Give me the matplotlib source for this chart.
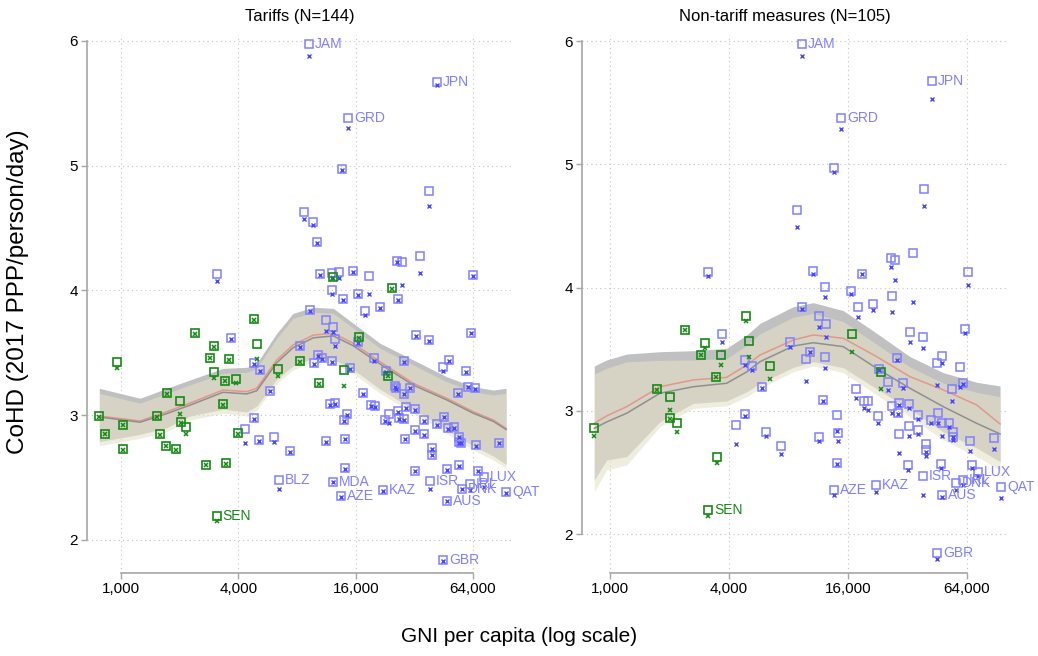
import matplotlib
matplotlib.use("Agg")
import matplotlib.pyplot as plt
from matplotlib.ticker import FixedLocator, FixedFormatter, NullLocator

plt.rcParams["font.family"] = ["Liberation Sans", "DejaVu Sans"]

BLUE_SQ = "#8080ff"
BLUE_X = "#4848ff"
GREEN = "#138a13"

# ---------------- Tariffs panel (N=144) ----------------
# blue countries: GNI per capita, CoHD (square), CoHD (x marker)
tar_blue_gni = [13570, 38180, 8720, 9700, 10135, 3108, 10500, 12050, 13060, 15410, 18790, 26140,
                27550, 34020, 64140, 12140, 13740, 16510, 26410, 9275, 17870, 21420, 11310, 12280,
                12530, 16440, 32560, 38180, 62120, 8290, 10210, 10770, 9757, 12140, 19890, 28150,
                47900, 44730, 59050, 14960, 22900, 25460, 25760, 30400, 28150, 17490, 60510, 65350,
                53280, 11870, 12500, 19060, 19990, 14390, 13900, 23850, 22630, 26380, 26690, 29070,
                32420, 28330, 35850, 45570, 41830, 47740, 50980, 32420, 35850, 54240, 54400, 55330,
                11310, 14180, 28760, 66060, 87190, 39210, 39210, 14070, 32250, 47040, 54050, 67470,
                3668, 4797, 5185, 5816, 4813, 4325, 5095, 6097, 7336]
tar_blue_sq = [4.971, 4.800, 4.631, 4.546, 4.386, 4.129, 4.132, 4.136, 4.144, 4.152, 4.112, 4.236,
               4.228, 4.276, 4.124, 4.007, 3.933, 3.973, 3.929, 3.844, 3.837, 3.863, 3.763, 3.704,
               3.614, 3.585, 3.642, 3.602, 3.662, 3.553, 3.480, 3.458, 3.415, 3.432, 3.462, 3.430,
               3.442, 3.388, 3.354, 3.375, 3.350, 3.233, 3.215, 3.221, 3.173, 3.177, 3.228, 3.217,
               3.177, 3.087, 3.095, 3.081, 3.075, 3.007, 2.961, 3.007, 2.957, 3.035, 2.977, 3.067,
               3.051, 2.966, 2.961, 2.987, 2.929, 2.893, 2.905, 2.877, 2.846, 2.827, 2.784, 2.779,
               2.790, 2.811, 2.811, 2.758, 2.780, 2.734, 2.684, 2.573, 2.554, 2.565, 2.600, 2.554,
               3.618, 3.414, 3.362, 3.196, 2.974, 2.885, 2.799, 2.828, 2.711]
tar_blue_x = [4.965, 4.677, 4.573, 4.524, 4.380, 4.078, 4.126, 4.100, 4.097, 4.146, 3.974, 4.230,
              4.043, 4.140, 4.118, 3.969, 3.927, 3.967, 3.923, 3.838, 3.803, 3.857, 3.674, 3.669,
              3.554, 3.579, 3.636, 3.596, 3.656, 3.547, 3.474, 3.452, 3.409, 3.426, 3.436, 3.424,
              3.436, 3.356, 3.348, 3.369, 3.344, 3.227, 3.209, 3.215, 3.167, 3.171, 3.222, 3.211,
              3.171, 3.081, 3.089, 3.075, 3.069, 3.001, 2.955, 2.934, 2.951, 3.029, 2.971, 3.061,
              3.045, 2.960, 2.955, 2.981, 2.923, 2.887, 2.899, 2.871, 2.840, 2.821, 2.778, 2.773,
              2.784, 2.805, 2.805, 2.752, 2.774, 2.728, 2.678, 2.567, 2.548, 2.559, 2.594, 2.548,
              3.612, 3.408, 3.356, 3.190, 2.968, 2.779, 2.793, 2.787, 2.705]

tar_lab_code = ["JAM", "JPN", "GRD", "BLZ", "MDA", "AZE", "KAZ", "ISR", "IRL", "DNK", "LUX", "QAT", "AUS", "GBR"]
tar_lab_gni = [9250, 41960, 14660, 6490, 12240, 13450, 22100, 38350, 61530, 56000, 72640, 94810, 47040, 45040]
tar_lab_sq = [5.976, 5.674, 5.380, 2.480, 2.466, 2.351, 2.399, 2.472, 2.445, 2.410, 2.501, 2.381, 2.314, 1.838]
tar_lab_x = [5.880, 5.647, 5.302, 2.405, 2.460, 2.345, 2.393, 2.407, 2.399, 2.404, 2.424, 2.375, 2.308, 1.832]

tar_green_gni = [774, 828, 957, 1027, 1027, 1530, 1585, 1700, 1910, 1730, 2000, 2025, 2163, 2397,
                 3000, 2862, 2990, 3418, 3878, 3594, 3324, 2730, 3470, 4832, 5004, 3983, 6391,
                 8288, 10336, 13985, 16636, 23440, 24660, 12280]
tar_green_sq = [2.993, 2.851, 3.426, 2.923, 2.726, 2.990, 2.846, 2.755, 2.728, 3.175, 3.113, 2.945,
                2.907, 3.658, 3.552, 3.460, 3.346, 3.276, 3.292, 3.450, 3.087, 2.602, 2.618, 3.768,
                3.568, 2.854, 3.367, 3.432, 3.258, 3.362, 3.624, 3.316, 4.017, 4.105]
tar_green_x = [2.987, 2.845, 3.375, 2.917, 2.720, 2.984, 2.840, 2.749, 2.722, 3.169, 3.007, 2.939,
               2.849, 3.652, 3.546, 3.454, 3.300, 3.270, 3.255, 3.444, 3.081, 2.596, 2.612, 3.762,
               3.452, 2.848, 3.314, 3.426, 3.252, 3.236, 3.618, 3.310, 4.011, 4.099]
tar_green_lab = ["SEN"]
tar_green_lab_gni = [3097]
tar_green_lab_sq = [2.193]
tar_green_lab_x = [2.153]

# smoothed fits and confidence bands (tariffs)
tar_band_gni = [774, 1252, 1716, 2260, 3336, 4417, 4970, 6295, 7630, 9700, 12280, 15550,
                21330, 31600, 46880, 64200, 81340, 94500]
tar_gray_hi = [3.215, 3.135, 3.215, 3.282, 3.375, 3.383, 3.415, 3.656, 3.816, 3.865, 3.856, 3.736,
               3.576, 3.442, 3.308, 3.228, 3.201, 3.215]
tar_gray_lo = [2.787, 2.846, 2.899, 2.993, 3.047, 3.025, 3.073, 3.287, 3.394, 3.460, 3.447, 3.367,
               3.207, 3.047, 2.886, 2.752, 2.672, 2.605]
tar_beige_hi = [3.175, 3.095, 3.175, 3.242, 3.335, 3.343, 3.375, 3.616, 3.776, 3.825, 3.816, 3.696,
                3.536, 3.402, 3.268, 3.188, 3.161, 3.175]
tar_beige_lo = [2.755, 2.814, 2.867, 2.961, 3.015, 2.993, 3.041, 3.255, 3.362, 3.428, 3.415, 3.335,
                3.175, 3.015, 2.854, 2.720, 2.640, 2.573]
tar_fit_red = [2.993, 2.953, 3.027, 3.097, 3.201, 3.188, 3.215, 3.442, 3.562, 3.642, 3.656, 3.576,
               3.428, 3.255, 3.135, 3.027, 2.961, 2.894]
tar_fit_gray = [2.985, 2.943, 3.012, 3.080, 3.183, 3.170, 3.195, 3.420, 3.540, 3.620, 3.635, 3.556,
                3.410, 3.240, 3.122, 3.015, 2.950, 2.885]

# ---------------- Non-tariff measures panel (N=105) ----------------
ntm_blue_gni = [13640, 8800, 38780, 3143, 10610, 18900, 26320, 27760, 34240, 64760, 12240, 16640,
                18050, 21490, 26630, 9362, 11420, 12340, 12310, 32950, 38450, 62530, 3686, 4819,
                5242, 5860, 4342, 4819, 6136, 7357, 8162, 9814, 10280, 11960, 11350, 14050, 14210,
                14130, 17570, 19320, 20160, 22770, 23010, 25590, 30370, 28330, 26630, 29090, 28550,
                32650, 36250, 32450, 36090, 28960, 39560, 39500, 41940, 45830, 44970, 48000, 47680,
                51920, 54560, 54560, 53750, 59220, 60960, 66250, 67850, 87190, 32310, 47500]
ntm_blue_sq = [4.972, 4.629, 4.800, 4.129, 4.132, 4.113, 4.238, 4.226, 4.278, 4.124, 4.007, 3.976,
               3.843, 3.867, 3.932, 3.843, 3.770, 3.705, 3.435, 3.642, 3.603, 3.662, 3.622, 3.413,
               3.361, 3.194, 2.886, 2.972, 2.831, 2.715, 3.556, 3.418, 3.480, 3.088, 2.791, 2.965,
               2.818, 2.575, 3.180, 3.082, 3.080, 2.956, 3.338, 3.233, 3.224, 3.427, 3.040, 3.066,
               2.985, 3.052, 2.963, 2.875, 2.845, 2.814, 2.734, 2.683, 2.929, 2.983, 3.386, 3.443,
               2.902, 2.904, 2.831, 2.791, 3.179, 3.354, 3.229, 2.758, 2.558, 2.780, 2.557, 2.567]
ntm_blue_x = [4.940, 4.494, 4.662, 4.094, 4.108, 4.107, 4.165, 4.062, 3.886, 4.019, 3.921, 3.948,
              3.759, 3.818, 3.800, 3.826, 3.678, 3.602, 3.345, 3.561, 3.513, 3.634, 3.561, 3.372,
              3.332, 3.188, 2.729, 2.955, 2.796, 2.650, 3.521, 3.245, 3.474, 3.082, 2.758, 2.839,
              2.758, 2.569, 3.102, 3.021, 3.007, 2.904, 3.332, 3.169, 3.186, 3.413, 2.981, 3.048,
              2.975, 3.023, 2.934, 2.796, 2.813, 2.661, 2.634, 2.667, 2.902, 2.899, 3.210, 3.386,
              2.799, 2.869, 2.788, 2.764, 3.080, 3.196, 3.218, 2.675, 2.537, 2.691, 2.521, 2.537]

ntm_lab_code = ["JAM", "JPN", "GRD", "AZE", "KAZ", "ISR", "IRL", "DNK", "LUX", "QAT", "AUS", "GBR"]
ntm_lab_gni = [9330, 42430, 14750, 13560, 22260, 38450, 61310, 56320, 72380, 95130, 47680, 45280]
ntm_lab_sq = [5.976, 5.676, 5.378, 2.356, 2.397, 2.470, 2.440, 2.413, 2.503, 2.380, 2.318, 1.845]
ntm_lab_x = [5.878, 5.527, 5.289, 2.318, 2.345, 2.314, 2.399, 2.359, 2.472, 2.291, 2.302, 1.799]

ntm_green_gni = [830, 1733, 2011, 2020, 2183, 2410, 3014, 2876, 3632, 3425, 4877, 5049, 6413, 3490,
                 16700, 23500]
ntm_green_sq = [2.859, 3.176, 3.113, 2.946, 2.902, 3.660, 3.553, 3.457, 3.457, 3.277, 3.770, 3.569,
                3.362, 2.622, 3.626, 3.318]
ntm_green_x = [2.800, 3.170, 3.011, 2.934, 2.825, 3.654, 3.510, 3.451, 3.372, 3.271, 3.729, 3.440,
               3.259, 2.577, 3.480, 3.180]
ntm_green_lab = ["SEN"]
ntm_green_lab_gni = [3143]
ntm_green_lab_sq = [2.196]
ntm_green_lab_x = [2.145]

ntm_band_gni = [833, 962, 1215, 1790, 2639, 3893, 4917, 5740, 8462, 10680, 15150, 22350,
                32950, 48570, 71640, 94020]
ntm_gray_hi = [3.364, 3.413, 3.461, 3.480, 3.488, 3.508, 3.616, 3.710, 3.845, 3.878, 3.813, 3.629,
               3.440, 3.310, 3.232, 3.202]
ntm_gray_lo = [2.440, 2.601, 2.629, 2.912, 3.061, 3.080, 3.155, 3.223, 3.353, 3.399, 3.350, 3.179,
               3.013, 2.829, 2.699, 2.589]
ntm_beige_hi = [3.300, 3.345, 3.398, 3.410, 3.412, 3.425, 3.530, 3.625, 3.760, 3.790, 3.725, 3.540,
                3.355, 3.225, 3.150, 3.115]
ntm_beige_lo = [2.345, 2.521, 2.561, 2.872, 3.021, 3.040, 3.115, 3.183, 3.318, 3.364, 3.310, 3.129,
                2.953, 2.764, 2.629, 2.521]
ntm_fit_red = [2.899, 2.959, 3.034, 3.196, 3.251, 3.272, 3.372, 3.453, 3.575, 3.616, 3.589, 3.440,
               3.277, 3.170, 3.048, 2.894]
ntm_fit_gray = [2.859, 2.910, 2.981, 3.143, 3.196, 3.224, 3.316, 3.399, 3.526, 3.553, 3.521, 3.345,
                3.183, 3.034, 2.899, 2.813]

XTICKS = [1000, 4000, 16000, 64000]
XTICKLABELS = ["1,000", "4,000", "16,000", "64,000"]
YTICKS = [2, 3, 4, 5, 6]


def draw_panel(ax, band_gni, gray_hi, gray_lo, beige_hi, beige_lo, fit_red, fit_gray,
               blue_gni, blue_sq, blue_x, lab_code, lab_gni, lab_sq, lab_x,
               green_gni, green_sq, green_x, glab, glab_gni, glab_sq, glab_x):
    # confidence bands and fitted lines
    ax.fill_between(band_gni, gray_lo, gray_hi, color="#c0c0c0", lw=0, zorder=1)
    ax.fill_between(band_gni, beige_lo, beige_hi, color="#e5e1c8", alpha=0.6, lw=0, zorder=1.5)
    ax.plot(band_gni, fit_red, color="#e3978a", lw=1.1, zorder=2)
    ax.plot(band_gni, fit_gray, color="#8f8f8f", lw=1.1, zorder=2)

    # blue group
    for g, s, xv in [(blue_gni, blue_sq, blue_x), (lab_gni, lab_sq, lab_x)]:
        ax.plot(g, s, ls="none", marker="s", ms=5.4, mfc="none", mec=BLUE_SQ, mew=1.1, zorder=3)
        ax.plot(g, xv, ls="none", marker="x", ms=3.4, mec=BLUE_X, mew=1.0, zorder=3.5)
    for code, g, s in zip(lab_code, lab_gni, lab_sq):
        ax.annotate(code, (g, s), xytext=(4.2, 0), textcoords="offset points",
                    va="center", ha="left", fontsize=10, color=BLUE_SQ, zorder=4)

    # green group
    for g, s, xv in [(green_gni, green_sq, green_x), (glab_gni, glab_sq, glab_x)]:
        ax.plot(g, s, ls="none", marker="s", ms=5.4, mfc="none", mec=GREEN, mew=1.2, zorder=4)
        ax.plot(g, xv, ls="none", marker="x", ms=3.4, mec=GREEN, mew=1.1, zorder=4.5)
    for code, g, s in zip(glab, glab_gni, glab_sq):
        ax.annotate(code, (g, s), xytext=(4.2, 0), textcoords="offset points",
                    va="center", ha="left", fontsize=10, color=GREEN, zorder=5)

    ax.set_xscale("log")
    ax.xaxis.set_major_locator(FixedLocator(XTICKS))
    ax.xaxis.set_major_formatter(FixedFormatter(XTICKLABELS))
    ax.xaxis.set_minor_locator(NullLocator())
    ax.set_yticks(YTICKS)
    ax.set_yticklabels([str(v) for v in YTICKS])
    ax.grid(True, which="major", linestyle=(0, (1, 3)), color="#c4c4c4", lw=0.8)
    ax.set_axisbelow(True)
    for side in ("top", "right"):
        ax.spines[side].set_visible(False)
    for side in ("left", "bottom"):
        ax.spines[side].set_color("#a6a6a6")
        ax.spines[side].set_linewidth(1.2)
    ax.spines["left"].set_bounds(2, 6)
    ax.spines["bottom"].set_bounds(1000, 64000)
    ax.tick_params(axis="both", length=4.5, width=1.0, color="#a6a6a6", labelsize=11, pad=2)


fig = plt.figure(figsize=(10.38, 6.56), dpi=100)
ax1 = fig.add_axes([87 / 1038, 83 / 656, 426 / 1038, 538 / 656])
ax2 = fig.add_axes([582 / 1038, 83 / 656, 425 / 1038, 538 / 656])

draw_panel(ax1, tar_band_gni, tar_gray_hi, tar_gray_lo, tar_beige_hi, tar_beige_lo, tar_fit_red, tar_fit_gray,
           tar_blue_gni, tar_blue_sq, tar_blue_x, tar_lab_code, tar_lab_gni, tar_lab_sq, tar_lab_x,
           tar_green_gni, tar_green_sq, tar_green_x, tar_green_lab, tar_green_lab_gni, tar_green_lab_sq,
           tar_green_lab_x)
draw_panel(ax2, ntm_band_gni, ntm_gray_hi, ntm_gray_lo, ntm_beige_hi, ntm_beige_lo, ntm_fit_red, ntm_fit_gray,
           ntm_blue_gni, ntm_blue_sq, ntm_blue_x, ntm_lab_code, ntm_lab_gni, ntm_lab_sq, ntm_lab_x,
           ntm_green_gni, ntm_green_sq, ntm_green_x, ntm_green_lab, ntm_green_lab_gni, ntm_green_lab_sq,
           ntm_green_lab_x)

ax1.set_xlim(669, 102600)
ax1.set_ylim(1.734, 6.048)
ax2.set_xlim(722, 101960)
ax2.set_ylim(1.685, 6.049)

fig.text(300 / 1038, 1 - 16 / 656, "Tariffs (N=144)", ha="center", va="center", fontsize=12)
fig.text(785 / 1038, 1 - 16 / 656, "Non-tariff measures (N=105)", ha="center", va="center", fontsize=12)
fig.text(18 / 1038, 1 - 292 / 656, "CoHD (2017 PPP/person/day)", rotation=90,
         ha="center", va="center", fontsize=17.5)
fig.text(0.5, 1 - 636 / 656, "GNI per capita (log scale)", ha="center", va="center", fontsize=15)

fig.savefig("out.png", dpi=100)
